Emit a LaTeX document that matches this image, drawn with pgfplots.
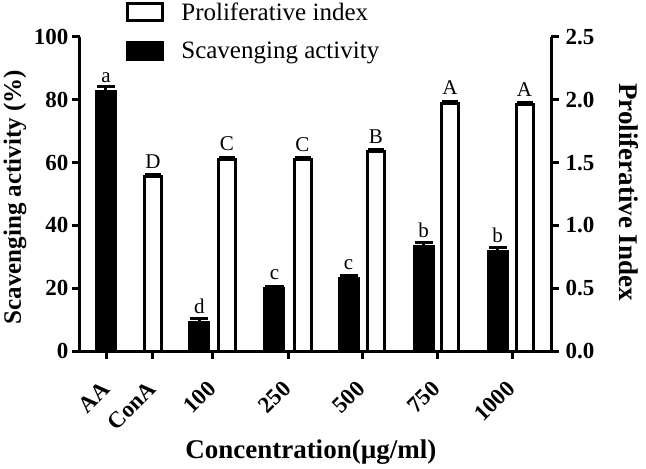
\documentclass[border=0pt]{standalone}
\usepackage{fontspec}
\setmainfont{Liberation Serif}
\usepackage{pgfplots}
\usepackage{pgfplotstable}
\pgfplotsset{compat=1.18}
\pgfplotstableread{
x y e l
106 82.8 1.3 a
199.5 9.3 0.9 d
274.5 20.0 0.7 c
348.5 23.2 1.0 c
423.5 33.4 1.0 b
497.5 31.8 1.1 b
}\scav
\pgfplotstableread{
x y e l
153 1.389 0.015 D
227 1.527 0.015 C
302.5 1.525 0.015 C
376 1.588 0.015 B
450 1.973 0.015 A
524.5 1.960 0.015 A
}\prolif
\begin{document}
\begin{tikzpicture}
\path[use as bounding box] (-80pt,-118pt) rectangle (566pt,351pt);
\pgfplotsset{
  common/.style={
    at={(0pt,0pt)}, anchor=south west,
    scale only axis, width=471pt, height=314pt,
    xmin=80, xmax=551,
    axis line style={line width=3pt, -},
    every outer x axis line/.append style={-},
    every outer y axis line/.append style={-},
    tick style={line width=3pt, black},
    major tick style={line width=3pt, black},
    tick align=outside, major tick length=8pt,
    tick label style={font=\bfseries\fontsize{23}{23}\selectfont, /pgf/number format/assume math mode=true},
  }
}
\begin{axis}[
  ymin=0, ymax=100,
  axis x line=bottom, axis y line=left,
  common,
  xtick={107,153,213,288,362,437,512},
  xticklabels={AA,ConA,100,250,500,750,1000},
  xticklabel style={inner sep=0pt, xshift=-1pt, yshift=-26pt, rotate=45, anchor=east},
  ytick={0,20,...,100},
  ylabel={Scavenging activity (\%)},
  ylabel style={font=\bfseries\fontsize{25}{25}\selectfont, at={(axis description cs:-0.138,0.49)}, anchor=center},
  xlabel={Concentration(µg/ml)},
  xlabel style={font=\bfseries\fontsize{27}{27}\selectfont, at={(axis description cs:0.49,-0.322)}, anchor=center},
]
\addplot[ybar, bar shift=0pt, bar width=20, fill=black, draw=black, line width=2pt,
  error bars/.cd, y dir=plus, y explicit,
  error bar style={line width=3pt},
  error mark options={rotate=90, mark size=9pt, line width=3pt}]
  table[x=x, y=y, y error=e] {\scav};
\addplot[only marks, mark=none, nodes near coords, point meta=explicit symbolic,
  every node near coord/.style={font=\fontsize{21}{21}\selectfont, anchor=south, inner sep=0pt, yshift=8pt}]
  table[x=x, y=y, meta=l] {\scav};
\end{axis}
\begin{axis}[
  ymin=0, ymax=2.5,
  axis x line=none, axis y line*=right,
  common,
  ytick={0,0.5,...,2.5},
  yticklabel style={xshift=3pt, /pgf/number format/.cd, fixed, fixed zerofill, precision=1},
  ylabel={Proliferative Index},
  ylabel style={font=\bfseries\fontsize{27}{27}\selectfont, at={(axis description cs:1.166,0.506)}, anchor=center, rotate=180},
  legend style={at={(axis description cs:0.098,1.112)}, anchor=north west, draw=none, fill=none,
    inner sep=0pt, font=\fontsize{25}{25}\selectfont, row sep=19pt,
    nodes={inner sep=0pt},
    /tikz/every odd column/.append style={column sep=17pt}},
  legend cell align=left,
]
\addplot[ybar, bar shift=0pt, bar width=17, fill=white, draw=black, line width=3pt,
  legend image code/.code={\draw[line width=3pt, draw=black, fill=white] (1.5pt,-8.5pt) rectangle (36.5pt,8.5pt);},
  error bars/.cd, y dir=plus, y explicit,
  error bar style={line width=3pt},
  error mark options={rotate=90, mark size=8pt, line width=3pt}]
  table[x=x, y=y, y error=e] {\prolif};
\addlegendentry{Proliferative index}
\addlegendimage{legend image code/.code={\draw[line width=3pt, draw=black, fill=black] (1.5pt,-8.5pt) rectangle (36.5pt,8.5pt);}}
\addlegendentry{Scavenging activity}
\addplot[only marks, mark=none, nodes near coords, point meta=explicit symbolic,
  every node near coord/.style={font=\fontsize{21}{21}\selectfont, anchor=south, inner sep=0pt, yshift=8pt},
  forget plot]
  table[x=x, y=y, meta=l] {\prolif};
\end{axis}
\end{tikzpicture}
\end{document}
